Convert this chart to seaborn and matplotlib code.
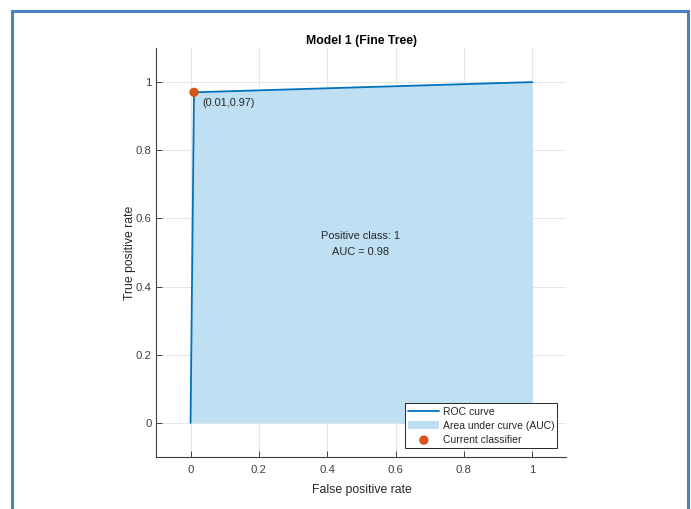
import matplotlib
matplotlib.use("Agg")
import matplotlib.pyplot as plt
import matplotlib.patches as mpatches
import seaborn as sns
import pandas as pd

fpr = [0.0, 0.01, 1.0]
tpr = [0.0, 0.97, 1.0]
op_fpr = [0.01]
op_tpr = [0.97]
ticks = [0, 0.2, 0.4, 0.6, 0.8, 1]
tick_labels = ["0", "0.2", "0.4", "0.6", "0.8", "1"]
title = "Model 1 (Fine Tree)"
auc_text = "Positive class: 1\nAUC = 0.98"

sns.set_theme(style="whitegrid")
plt.rcParams['font.family'] = ['Liberation Sans', 'DejaVu Sans']

fig = plt.figure(figsize=(6.91, 5.09), dpi=100)
ax = fig.add_axes([156.4 / 691, 52 / 509, 410 / 691, 409 / 509])
ax.set_facecolor("white")

df = pd.DataFrame({"fpr": fpr, "tpr": tpr})
ax.fill_between(fpr, tpr, 0, color="#bfdff3", linewidth=0, label="Area under curve (AUC)", zorder=2)
sns.lineplot(data=df, x="fpr", y="tpr", ax=ax, color="#0072BD", linewidth=1.3,
             label="ROC curve", sort=False, zorder=3)
sns.scatterplot(x=op_fpr, y=op_tpr, ax=ax, color="#D95319", s=45, edgecolor="none",
                label="Current classifier", zorder=4)

ax.annotate(f"({op_fpr[0]:.2f},{op_tpr[0]:.2f})", (op_fpr[0], op_tpr[0]),
            xytext=(6, -10), textcoords="offset points", fontsize=7.8, color="#262626")
ax.text(0.497, 0.525, auc_text, ha="center", va="center", fontsize=7.9,
        color="#262626", linespacing=1.75)

ax.set_xlim(-0.1, 1.1)
ax.set_ylim(-0.1, 1.1)
ax.set_xticks(ticks)
ax.set_xticklabels(tick_labels)
ax.set_yticks(ticks)
ax.set_yticklabels(tick_labels)
ax.grid(True, color="#e6e6e6", linewidth=0.7)
ax.set_axisbelow(True)
for s in ["top", "right"]:
    ax.spines[s].set_visible(False)
for s in ["left", "bottom"]:
    ax.spines[s].set_color("#404040")
    ax.spines[s].set_linewidth(0.8)
ax.tick_params(axis="both", direction="in", length=4, width=0.7, colors="#404040",
               labelsize=8.2, labelcolor="#404040")
ax.tick_params(axis="x", bottom=True, pad=5.5)
ax.tick_params(axis="y", left=True, pad=3.5)
ax.set_xlabel("False positive rate", fontsize=8.8, color="#262626", labelpad=6.5)
ax.set_ylabel("True positive rate", fontsize=8.8, color="#262626", labelpad=0)
ax.set_title(title, fontsize=8.8, fontweight="bold", color="#000000", pad=3)

handles, labels = ax.get_legend_handles_labels()
order = [labels.index("ROC curve"), labels.index("Area under curve (AUC)"), labels.index("Current classifier")]
leg = ax.legend([handles[i] for i in order], [labels[i] for i in order],
                loc="lower right", bbox_to_anchor=(0.983, 0.017), fontsize=7.5,
                frameon=True, fancybox=False, edgecolor="#262626", framealpha=1,
                borderpad=0.3, labelspacing=0.4, handlelength=3.0, handletextpad=0.3,
                borderaxespad=0.2)
leg.get_frame().set_linewidth(0.7)

border = mpatches.Rectangle((12 / 691, -0.05), (688 - 12) / 691, (509 - 11) / 509 + 0.05,
                            transform=fig.transFigure, fill=False, edgecolor="#4a7fc1",
                            linewidth=2.2, clip_on=False)
fig.patches.append(border)

fig.savefig("out.png", dpi=100)
